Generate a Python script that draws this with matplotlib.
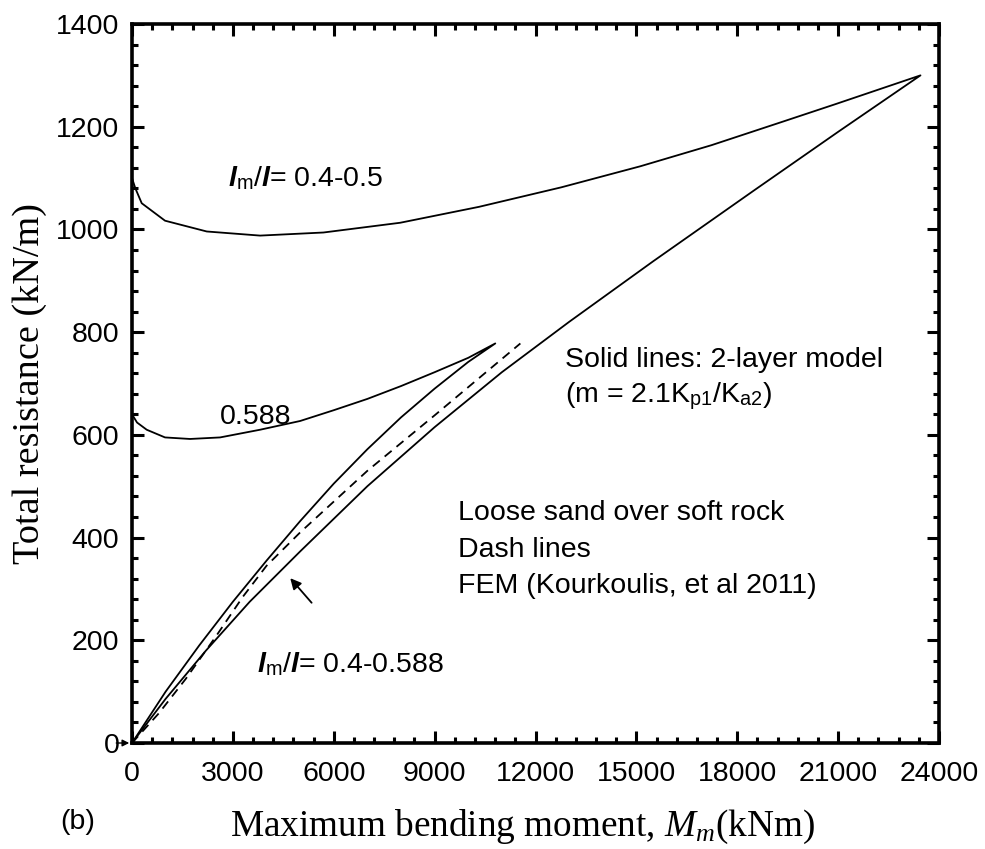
import matplotlib
matplotlib.use("Agg")
import matplotlib.pyplot as plt
from matplotlib.ticker import MultipleLocator

plt.rcParams['font.family'] = ['Liberation Sans', 'DejaVu Sans']
plt.rcParams['mathtext.fontset'] = 'custom'
plt.rcParams['mathtext.rm'] = 'Liberation Sans'
plt.rcParams['mathtext.it'] = 'Liberation Serif:italic'
plt.rcParams['mathtext.bf'] = 'Liberation Sans:italic:bold'

# ---- data ----
# l_m/l = 0.4-0.5 : loading branch and return branch (2-layer model)
m_05_up = [0, 100, 289, 982, 2223, 3810, 5693, 7976, 10320, 12768, 15119, 17232, 19360, 20923, 23450]
r_05_up = [1100, 1080, 1051, 1017, 996, 988, 994, 1013, 1044, 1082, 1123, 1164, 1210, 1244, 1300]
m_05_dn = [23450, 21000, 18500, 15500, 13000, 11000, 9000, 7000, 5000, 3500, 2200, 1000, 0]
r_05_dn = [1300, 1190, 1076, 938, 820, 722, 615, 500, 373, 275, 180, 86, 0]

# l_m/l = 0.588
m_588_up = [0, 150, 437, 982, 1726, 2619, 3810, 5000, 6000, 7000, 8000, 9000, 10000, 10804]
r_588_up = [640, 624, 610, 595, 592, 595, 610, 627, 648, 670, 695, 722, 750, 778]
m_588_dn = [10804, 10000, 9000, 8000, 7000, 6000, 5000, 4000, 3000, 2000, 1000, 0]
r_588_dn = [778, 742, 690, 634, 572, 505, 432, 355, 275, 190, 100, 0]

# FEM (Kourkoulis et al. 2011), dashed
m_fem = [0, 800, 1600, 2500, 3300, 4000, 5000, 7000, 9000, 11550]
r_fem = [0, 58, 125, 208, 285, 345, 410, 530, 638, 778]

x_ticks = [0, 3000, 6000, 9000, 12000, 15000, 18000, 21000, 24000]
y_ticks = [0, 200, 400, 600, 800, 1000, 1200, 1400]

fig = plt.figure(figsize=(9.85, 8.49), dpi=100)
ax = fig.add_axes([132/985, 1-743/849, (939-132)/985, (743-24)/849])

lw = 1.3
ax.plot(m_05_up + m_05_dn, r_05_up + r_05_dn, color='black', lw=lw)
ax.plot(m_588_up + m_588_dn, r_588_up + r_588_dn, color='black', lw=lw)
ax.plot(m_fem, r_fem, color='black', lw=lw, ls=(0, (5, 3.5)))

ax.set_xlim(0, 24000)
ax.set_ylim(0, 1400)
ax.set_xticks(x_ticks)
ax.set_yticks(y_ticks)
ax.xaxis.set_minor_locator(MultipleLocator(600))
ax.yaxis.set_minor_locator(MultipleLocator(40))
ax.tick_params(which='both', direction='in', top=True, right=True, width=2.2, labelsize=20.5)
ax.tick_params(which='major', length=8.5)
ax.tick_params(which='minor', length=4.3)
ax.tick_params(axis='x', pad=13)
ax.tick_params(axis='y', pad=9)
for s in ax.spines.values():
    s.set_linewidth(2.6)

fs = 20.5
ax.text(2866, 1085, r'$\mathbf{l}_{\mathrm{m}}$/$\mathbf{l}$= 0.4-0.5', fontsize=fs, va='baseline')
ax.text(2619, 621, '0.588', fontsize=fs, va='baseline')
ax.text(3710, 139, r'$\mathbf{l}_{\mathrm{m}}$/$\mathbf{l}$= 0.4-0.588', fontsize=fs, va='baseline')
ax.text(12887, 733, 'Solid lines: 2-layer model', fontsize=fs, va='baseline')
ax.text(12887, 663, r'(m = 2.1K$_{\mathrm{p1}}$/K$_{\mathrm{a2}}$)', fontsize=fs, va='baseline')
ax.text(9702, 434, 'Loose sand over soft rock', fontsize=fs, va='baseline')
ax.text(9702, 362, 'Dash lines', fontsize=fs, va='baseline')
ax.text(9702, 292, 'FEM (Kourkoulis, et al 2011)', fontsize=fs, va='baseline')

ax.annotate('', xy=(4652, 325), xytext=(5396, 269),
            arrowprops=dict(arrowstyle='-|>', color='black', lw=1.3, mutation_scale=16))
ax.annotate('', xy=(0, 0), xytext=(-550, 0), annotation_clip=False,
            arrowprops=dict(arrowstyle='-|>', color='black', lw=1.0, mutation_scale=10))

fig.text(230/985, 1-836/849, 'Maximum bending moment, $M_m$(kNm)',
         family='Liberation Serif', fontsize=26.8, va='baseline', ha='left')
fig.text(30/985, 1-384/849, 'Total resistance (kN/m)', family='Liberation Serif',
         fontsize=27.5, rotation=90, va='center', ha='center')
fig.text(60/985, 1-822/849, '(b)', fontsize=fs, va='center', ha='left')

fig.savefig('out.png', dpi=100)
